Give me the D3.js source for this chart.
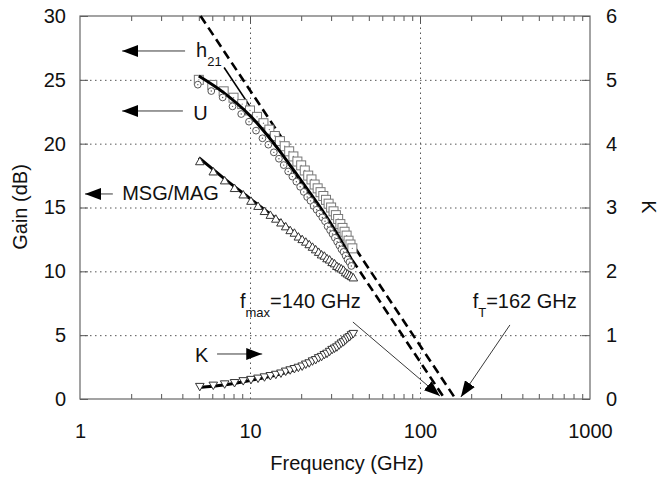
<!DOCTYPE html>
<html>
<head>
<meta charset="utf-8">
<script src="https://cdn.jsdelivr.net/npm/d3@7"></script>
<style>
  body { margin: 0; background: #fff; }
  text { font-family: "Liberation Sans", Arial, sans-serif; fill: #111; }
</style>
</head>
<body>
<div id="chart"></div>
<script>
// measured frequencies (GHz)
var freq = d3.range(5, 41);

// squares
var gainSq = [25.0,24.6,24.1,23.6,23.1,22.6,22.1,21.6,21.1,20.6,20.2,19.8,19.4,19.0,18.6,18.3,17.9,17.5,17.2,16.8,
              16.5,16.2,15.9,15.6,15.3,15.0,14.7,14.4,14.1,13.7,13.4,13.1,12.8,12.4,12.1,11.8];
// circles
var gainCirc = [24.7,24.2,23.7,23.0,22.4,21.8,21.1,20.5,20.0,19.4,18.9,18.4,17.9,17.5,17.1,16.7,16.3,15.9,15.6,15.2,
                14.9,14.6,14.3,14.0,13.6,13.3,13.0,12.7,12.4,12.1,11.8,11.6,11.3,11.0,10.8,10.5];
// MSG/MAG (triangles)
var gainMsg = [18.7,17.9,17.2,16.6,16.1,15.6,15.2,14.8,14.5,14.2,13.9,13.6,13.3,13.1,12.8,12.6,12.4,12.2,12.0,11.8,
               11.6,11.4,11.3,11.1,11.0,10.8,10.7,10.5,10.4,10.3,10.2,10.0,9.9,9.8,9.7,9.6];
// stability factor K (right axis)
var kVal = [0.19,0.21,0.23,0.25,0.28,0.30,0.32,0.34,0.36,0.38,0.40,0.43,0.45,0.47,0.49,0.51,0.54,0.56,0.59,0.61,
            0.64,0.66,0.69,0.71,0.74,0.77,0.79,0.81,0.84,0.87,0.89,0.92,0.95,0.97,1.00,1.02];

// model curves (thick black)
var modelFreq = [5, 7, 10, 15, 20, 25, 30, 35, 40];
var modelU   = [25.3, 24.0, 22.2, 19.4, 17.1, 15.3, 13.7, 12.2, 10.8];
var modelMsg = [18.9, 17.3, 15.7, 13.9, 12.6, 11.6, 10.8, 10.1, 9.5];
var modelK   = [0.18, 0.22, 0.29, 0.39, 0.50, 0.63, 0.76, 0.88, 1.01];

// -20 dB/dec extrapolation lines (fT = 162 GHz, fmax = 140 GHz)
var fTLine    = {freq: [5.12, 162], gain: [30, 0]};
var fMaxSolid = {freq: [7.04, 40], gain: [25.97, 10.88]};
var fMaxDash  = {freq: [40, 140], gain: [10.88, 0]};

var xTicks = [1, 10, 100, 1000];
var yTicks = [0, 5, 10, 15, 20, 25, 30];
var kTicks = [0, 1, 2, 3, 4, 5, 6];

var W = 660, H = 479;
var pL = 80, pR = 590, pT = 16, pB = 399;
var fs = 20;

var svg = d3.select('#chart').append('svg')
  .attr('width', W).attr('height', H);

var x = d3.scaleLog().domain([1, 1000]).range([pL, pR]);
var y = d3.scaleLinear().domain([0, 30]).range([pB, pT]);
var yk = d3.scaleLinear().domain([0, 6]).range([pB, pT]);

var defs = svg.append('defs');
defs.append('marker').attr('id', 'head')
  .attr('viewBox', '0 0 16 12').attr('refX', 16).attr('refY', 6)
  .attr('markerWidth', 16).attr('markerHeight', 12)
  .attr('markerUnits', 'userSpaceOnUse').attr('orient', 'auto')
  .append('path').attr('d', 'M0,0 L16,6 L0,12 Z').attr('fill', '#000');

// grid
var gridStyle = function(g) {
  g.select('.domain').remove();
  g.selectAll('.tick line').attr('stroke', '#555').attr('stroke-width', 1).attr('stroke-dasharray', '1.5,3.5');
  g.selectAll('text').remove();
};
svg.append('g').attr('transform', 'translate(0,' + pB + ')')
  .call(d3.axisBottom(x).tickValues([10, 100]).tickSize(-(pB - pT)))
  .call(gridStyle);
svg.append('g').attr('transform', 'translate(' + pL + ',0)')
  .call(d3.axisLeft(y).tickValues([5, 10, 15, 20, 25]).tickSize(-(pR - pL)))
  .call(gridStyle);

// minor log ticks, inward, bottom and top
var minor = [];
[1, 10, 100].forEach(function(d) { for (var i = 2; i <= 9; i++) minor.push(d * i); });
var tickStyle = function(g) {
  g.select('.domain').remove();
  g.selectAll('.tick line').attr('stroke', '#555');
  g.selectAll('text').remove();
};
svg.append('g').attr('transform', 'translate(0,' + pB + ')')
  .call(d3.axisBottom(x).tickValues(minor).tickSize(-5)).call(tickStyle);
svg.append('g').attr('transform', 'translate(0,' + pT + ')')
  .call(d3.axisTop(x).tickValues(minor).tickSize(-5)).call(tickStyle);
svg.append('g').attr('transform', 'translate(0,' + pT + ')')
  .call(d3.axisTop(x).tickValues([10, 100]).tickSize(-8)).call(tickStyle);
svg.append('g').attr('transform', 'translate(' + pL + ',0)')
  .call(d3.axisLeft(y).tickValues(yTicks).tickSize(-8)).call(tickStyle);
svg.append('g').attr('transform', 'translate(' + pR + ',0)')
  .call(d3.axisRight(yk).tickValues(kTicks).tickSize(-8)).call(tickStyle);

// frame
svg.append('rect').attr('x', pL).attr('y', pT)
  .attr('width', pR - pL).attr('height', pB - pT)
  .attr('fill', 'none').attr('stroke', '#666').attr('stroke-width', 1.2);

// tick labels
var labelStyle = function(g) {
  g.select('.domain').remove();
  g.selectAll('.tick line').remove();
  g.selectAll('text').attr('font-size', fs).attr('font-family', '"Liberation Sans", Arial, sans-serif').attr('fill', '#111');
};
svg.append('g').attr('transform', 'translate(0,' + (pB + 22) + ')')
  .call(d3.axisBottom(x).tickValues(xTicks).tickFormat(d3.format('d')).tickSize(0))
  .call(labelStyle);
svg.append('g').attr('transform', 'translate(' + (pL - 11) + ',0)')
  .call(d3.axisLeft(y).tickValues(yTicks).tickFormat(d3.format('d')).tickSize(0))
  .call(labelStyle);
svg.append('g').attr('transform', 'translate(' + (pR + 13) + ',0)')
  .call(d3.axisRight(yk).tickValues(kTicks).tickFormat(d3.format('d')).tickSize(0))
  .call(labelStyle);

// axis titles
svg.append('text').attr('x', 347).attr('y', 470).attr('text-anchor', 'middle')
  .attr('font-size', fs).text('Frequency (GHz)');
svg.append('text').attr('transform', 'translate(27,207) rotate(-90)').attr('text-anchor', 'middle')
  .attr('font-size', fs).text('Gain (dB)');
svg.append('text').attr('transform', 'translate(642,207) rotate(90)').attr('text-anchor', 'middle')
  .attr('font-size', fs).text('K');

// extrapolation lines
var gLine = d3.line().x(function(d) { return x(d[0]); }).y(function(d) { return y(d[1]); });
function pairs(o) { return o.freq.map(function(f, i) { return [f, o.gain[i]]; }); }
svg.append('path').attr('d', gLine(pairs(fTLine)))
  .attr('fill', 'none').attr('stroke', '#000').attr('stroke-width', 2.6).attr('stroke-dasharray', '9,5');
svg.append('path').attr('d', gLine(pairs(fMaxDash)))
  .attr('fill', 'none').attr('stroke', '#000').attr('stroke-width', 2.6).attr('stroke-dasharray', '9,5');
svg.append('path').attr('d', gLine(pairs(fMaxSolid)))
  .attr('fill', 'none').attr('stroke', '#000').attr('stroke-width', 1.6);

// markers
var sq = svg.append('g');
freq.forEach(function(f, i) {
  sq.append('rect').attr('x', x(f) - 4.5).attr('y', y(gainSq[i]) - 4.5).attr('width', 9).attr('height', 9)
    .attr('fill', '#fff').attr('stroke', '#777').attr('stroke-width', 1);
  sq.append('circle').attr('cx', x(f)).attr('cy', y(gainSq[i])).attr('r', 0.7).attr('fill', '#777');
});

// model lines
var modelLine = function(yScale, vals) {
  return d3.line().curve(d3.curveMonotoneX)
    .x(function(d) { return x(d); }).y(function(d, i) { return yScale(vals[i]); })(modelFreq);
};
[[y, modelU], [y, modelMsg], [yk, modelK]].forEach(function(m) {
  svg.append('path').attr('d', modelLine(m[0], m[1]))
    .attr('fill', 'none').attr('stroke', '#000').attr('stroke-width', 3);
});

var ci = svg.append('g');
freq.forEach(function(f, i) {
  ci.append('circle').attr('cx', x(f) - 1).attr('cy', y(gainCirc[i]) + 1).attr('r', 3.4)
    .attr('fill', '#fff').attr('stroke', '#555').attr('stroke-width', 1);
  ci.append('circle').attr('cx', x(f) - 1).attr('cy', y(gainCirc[i]) + 1).attr('r', 0.7).attr('fill', '#555');
});

var tri = d3.symbol().type(d3.symbolTriangle).size(32);
var ms = svg.append('g');
freq.forEach(function(f, i) {
  ms.append('path').attr('d', tri).attr('transform', 'translate(' + (x(f) + 1) + ',' + (y(gainMsg[i]) + 2) + ')')
    .attr('fill', '#fff').attr('stroke', '#333').attr('stroke-width', 1);
});
var kg = svg.append('g');
freq.forEach(function(f, i) {
  kg.append('path').attr('d', tri).attr('transform', 'translate(' + (x(f) + 1) + ',' + (yk(kVal[i]) - 1) + ') rotate(180)')
    .attr('fill', '#fff').attr('stroke', '#333').attr('stroke-width', 1);
});

// legend arrows (data coordinates)
var arrows = [
  {from: [4.15, 27.26], to: [1.77, 27.26], sc: y},
  {from: [4.03, 22.56], to: [1.77, 22.56], sc: y},
  {from: [1.56, 16.06], to: [1.07, 16.06], sc: y},
  {from: [6.40, 0.705], to: [11.8, 0.705], sc: yk},
  {from: [40.3, 6.03], to: [131, 0.23], sc: y},
  {from: [338, 5.8], to: [174, 0.16], sc: y}
];
arrows.forEach(function(a) {
  svg.append('line')
    .attr('x1', x(a.from[0])).attr('y1', a.sc(a.from[1]))
    .attr('x2', x(a.to[0])).attr('y2', a.sc(a.to[1]))
    .attr('stroke', '#222').attr('stroke-width', 0.9)
    .attr('marker-end', 'url(#head)');
});

// labels
function label(f, v, sc, main, sub, rest) {
  var t = svg.append('text').attr('x', x(f)).attr('y', sc(v)).attr('font-size', 20);
  t.append('tspan').text(main);
  if (sub) t.append('tspan').attr('font-size', 13).attr('dy', 9).text(sub);
  if (rest) t.append('tspan').attr('dy', -9).text(rest);
}
label(4.82, 26.8, y, 'h', '21', null);
label(4.63, 21.85, y, 'U', null, null);
label(1.77, 15.6, y, 'MSG/MAG', null, null);
label(4.74, 0.58, yk, 'K', null, null);
label(8.73, 7.13, y, 'f', 'max', '=140 GHz');
label(204, 7.13, y, 'f', 'T', '=162 GHz');
</script>
</body>
</html>
